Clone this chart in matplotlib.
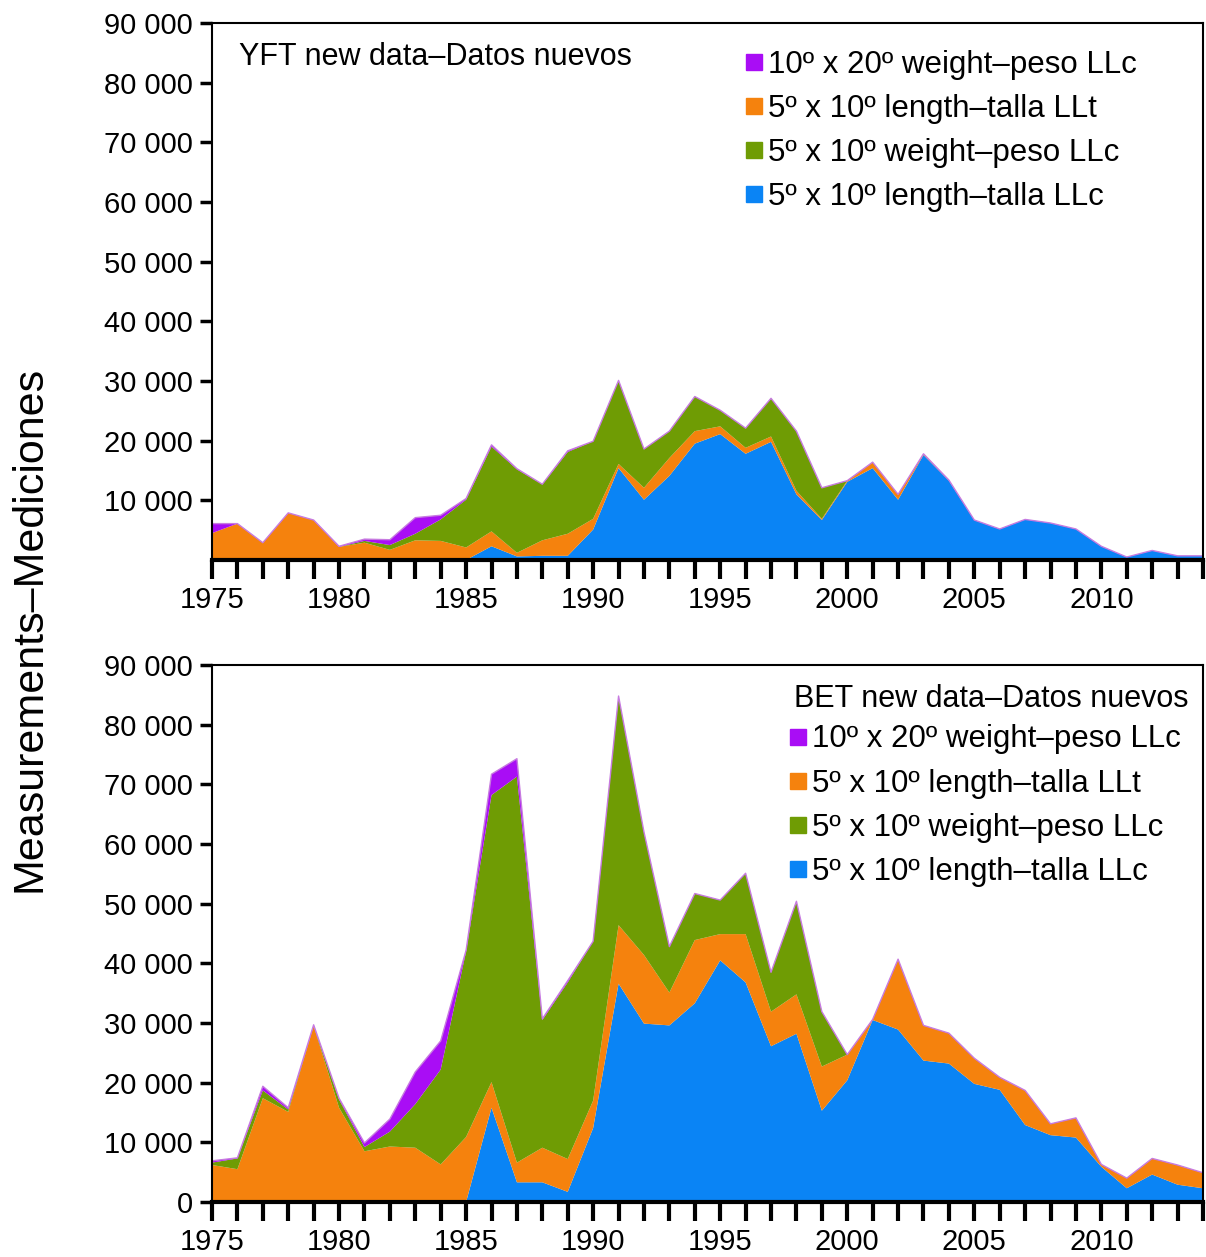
import matplotlib
matplotlib.use("Agg")
import matplotlib.pyplot as plt
from matplotlib.lines import Line2D
import numpy as np

plt.rcParams['font.family'] = ['Liberation Sans', 'DejaVu Sans']

years = list(range(1975, 2015))

# YFT (top)
yft_len_llc = [0,0,0,0,0,0,0,0,0,0,0,2.3,0.6,0.7,0.7,5.1,15.4,10.1,14.1,19.5,21.1,17.8,19.8,11.0,6.7,13.1,15.4,10.1,17.6,13.3,6.7,5.2,6.8,6.2,5.2,2.3,0.5,1.6,0.7,0.7]
yft_wt_llc  = [0,0,0,0,0,0,0.3,0.8,1.1,3.6,8.0,14.2,14.0,9.4,13.7,13.0,14.0,6.5,4.5,5.8,2.7,3.3,6.4,10.0,5.2,0,0,0,0,0,0,0,0,0,0,0,0,0,0,0]
yft_len_llt = [4.5,6.1,2.9,7.9,6.7,2.2,2.9,1.7,3.3,3.2,2.1,2.5,0.6,2.6,3.7,1.8,0.7,2.0,3.0,2.1,1.3,1.0,0.9,0.6,0.2,0.2,1.0,0.9,0.2,0.1,0,0,0,0,0,0,0,0,0,0]
yft_wt_10   = [1.6,0,0,0,0,0.1,0.3,0.9,2.7,0.7,0.2,0.3,0.1,0,0.2,0,0,0,0,0,0,0,0,0,0,0,0,0,0,0,0,0,0,0,0,0,0,0,0,0]

# BET (bottom)
bet_len_llc = [0,0,0,0,0,0,0,0,0,0,0,15.8,3.3,3.3,1.7,12.4,36.6,29.9,29.6,33.3,40.5,36.8,26.1,28.2,15.3,20.4,30.5,28.9,23.7,23.2,19.8,18.8,12.9,11.2,10.8,5.9,2.3,4.6,2.9,2.3]
bet_wt_llc  = [0.4,1.8,1.3,0.4,0,1.4,0.7,2.5,7.3,15.9,31.1,48.1,64.7,21.4,29.6,26.7,38.4,20.6,7.7,7.8,5.7,10.2,6.6,15.6,9.2,0,0,0,0,0,0,0,0,0,0,0,0,0,0,0]
bet_len_llt = [6.2,5.5,17.4,15.1,29.5,15.8,8.5,9.3,9.1,6.3,10.9,4.3,3.3,5.8,5.5,4.6,9.8,11.5,5.5,10.6,4.4,8.1,5.8,6.6,7.4,4.3,0.1,11.8,5.9,5.1,4.3,2.1,5.8,1.9,3.3,0.4,1.7,2.7,3.3,2.6]
bet_wt_10   = [0.3,0.1,0.7,0.3,0.2,0.2,0.7,2.1,5.4,4.8,0.2,3.5,3.0,0.2,0.3,0,0,0,0,0,0,0,0,0,0,0,0,0,0,0,0,0,0,0,0,0,0,0,0,0]

# stacking order bottom -> top
labels = ["5º x 10º length\u2013talla LLc", "5º x 10º length\u2013talla LLt",
          "5º x 10º weight\u2013peso LLc", "10º x 20º weight\u2013peso LLc"]
colors = ["#0A84F5", "#F5820D", "#6F9C04", "#A90DF5"]
legend_order = [3, 1, 2, 0]

fig = plt.figure(figsize=(12.06, 12.57), dpi=100)
W, H = 1206, 1257
ax1 = fig.add_axes([212/W, 1-560/H, (1203-212)/W, (560-23)/H])
ax2 = fig.add_axes([212/W, 1-1202/H, (1203-212)/W, (1202-665)/H])

def draw(ax, series, show_zero):
    data = [np.array(s)*1000 for s in series]
    ax.stackplot(years, *data, colors=colors, edgecolor="none")
    tot = np.sum(data, axis=0)
    ax.plot(years, tot, color="#C77BE0", lw=1)
    ax.set_xlim(1975, 2014)
    ax.set_ylim(0, 90000)
    ax.set_yticks(range(0 if show_zero else 10000, 90001, 10000))
    ax.set_yticklabels([f"{v:,}".replace(",", " ") for v in ax.get_yticks()], fontsize=21)
    ax.set_xticks(range(1975, 2015))
    ax.set_xticklabels([str(y) if y % 5 == 0 else "" for y in range(1975, 2015)], fontsize=21)
    ax.tick_params(axis='x', length=14, width=3, direction='out', pad=5)
    ax.tick_params(axis='y', length=9, width=2.5, direction='out', pad=5)
    for s in ax.spines.values():
        s.set_linewidth(1.5)
    ax.spines['bottom'].set_linewidth(3)

draw(ax1, [yft_len_llc, yft_len_llt, yft_wt_llc, yft_wt_10], False)
draw(ax2, [bet_len_llc, bet_len_llt, bet_wt_llc, bet_wt_10], True)

handles = [Line2D([], [], marker='s', ls='none', color=colors[i], markersize=11) for i in legend_order]
labs = [labels[i] for i in legend_order]
ax1.legend(handles, labs, loc='upper right', bbox_to_anchor=(0.955, 0.99), frameon=False,
           fontsize=22.5, handletextpad=-0.15, labelspacing=0.45, borderaxespad=0.3, handlelength=1.2)
ax1.text(0.027, 0.965, "YFT new data\u2013Datos nuevos", transform=ax1.transAxes, fontsize=22, va='top')
ax2.legend(handles, labs, loc='upper right', bbox_to_anchor=(1.0, 0.93), frameon=False,
           fontsize=22.5, handletextpad=-0.15, labelspacing=0.45, borderaxespad=0.3, handlelength=1.2)
ax2.text(0.985, 0.965, "BET new data\u2013Datos nuevos", transform=ax2.transAxes, fontsize=22, va='top', ha='right')

fig.text(30/W, 0.5, "Measurements\u2013Mediciones", rotation=90, va='center', ha='center', fontsize=31)
fig.savefig("out.png", dpi=100)
